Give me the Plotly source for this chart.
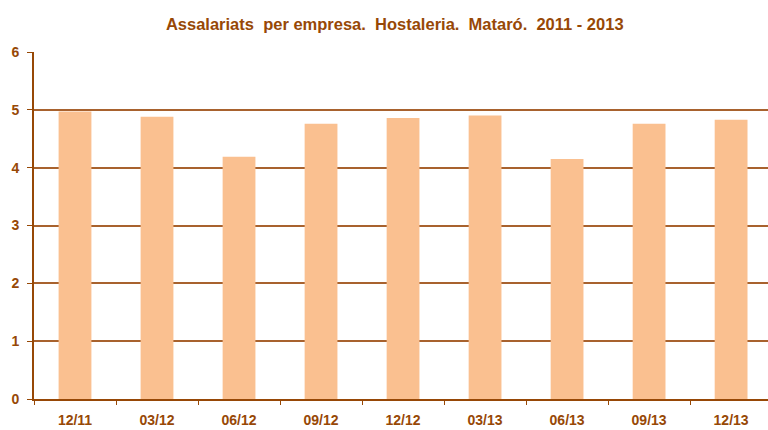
import plotly.graph_objects as go

categories = ["12/11", "03/12", "06/12", "09/12", "12/12", "03/13", "06/13", "09/13", "12/13"]
values = [4.97, 4.88, 4.19, 4.76, 4.86, 4.90, 4.15, 4.76, 4.83]
y_ticks = [0, 1, 2, 3, 4, 5, 6]
title_text = "Assalariats  per empresa.  Hostaleria.  Mataró.  2011 - 2013"

brown = "#974806"
grid = "#A8622E"
bar_color = "#FAC090"

fig = go.Figure(go.Bar(x=categories, y=values, marker=dict(color=bar_color, line=dict(width=0)), width=0.4))

fig.update_layout(
    width=768, height=430,
    margin=dict(l=34, r=0, t=52, b=31),
    paper_bgcolor="white", plot_bgcolor="white",
    showlegend=False,
    title=dict(text="<b>" + title_text + "</b>", x=0.514, xanchor="center", y=0.943, yanchor="middle",
               font=dict(family="Liberation Sans, Arial", size=16.5, color=brown)),
    font=dict(family="Liberation Sans, Arial", color=brown),
)
fig.update_xaxes(
    type="category", range=[-0.5, 8.45], showgrid=False,
    showline=True, linecolor=brown, linewidth=2,
    ticks="outside", tickson="boundaries", ticklen=4, tickcolor=brown, tickwidth=1,
    tickfont=dict(family="Liberation Sans, Arial", size=14, color=brown, weight="bold"),
    ticklabelstandoff=7, automargin=False,
)
fig.update_yaxes(
    range=[0, 6], tickvals=y_ticks, showgrid=True, gridcolor=grid, gridwidth=2,
    zeroline=False, showline=True, linecolor=brown, linewidth=2,
    ticks="outside", ticklen=5, tickcolor=brown, tickwidth=1,
    tickfont=dict(family="Liberation Sans, Arial", size=14, color=brown, weight="bold"),
    ticklabelstandoff=5, automargin=False,
)
fig.write_html("out.html")
